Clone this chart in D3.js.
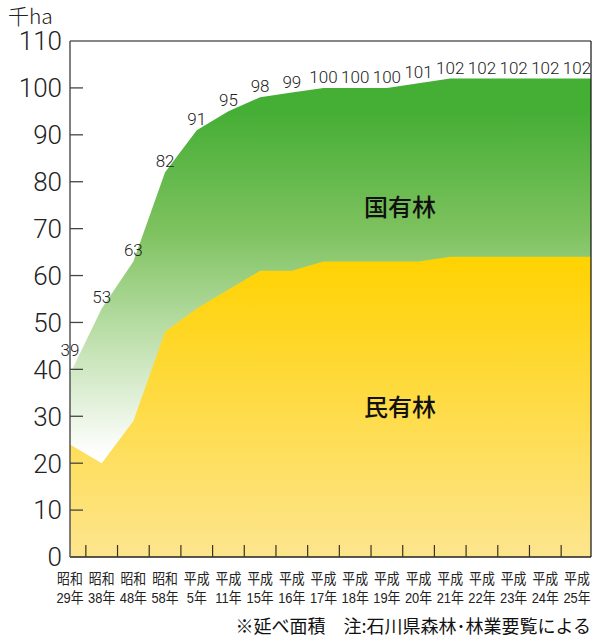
<!DOCTYPE html>
<html><head><meta charset="utf-8">
<script src="https://cdn.jsdelivr.net/npm/d3@7"></script>
<style>
body{margin:0;background:#fff;}
svg{display:block;}
</style></head>
<body>
<svg id="c" width="592" height="637"></svg>
<script>
const eras = ["昭和","昭和","昭和","昭和","平成","平成","平成","平成","平成","平成","平成","平成","平成","平成","平成","平成","平成"];
const years = ["29年","38年","48年","58年","5年","11年","15年","16年","17年","18年","19年","20年","21年","22年","23年","24年","25年"];
const totalValues = [39,53,63,82,91,95,98,99,100,100,100,101,102,102,102,102,102];
const privateValues = [24,20,29,48,53,57,61,61,63,63,63,63,64,64,64,64,64];
const yTicks = [0,10,20,30,40,50,60,70,80,90,100,110];

const svg = d3.select("#c");
const L = 70, R = 591, T = 41, B = 557;
const cats = years.map((y,i)=>eras[i]+y);
const x = d3.scalePoint().domain(cats).range([L, 577]);
const y = d3.scaleLinear().domain([0,110]).range([B, T]);
const step = x.step();

const defs = svg.append("defs");
const gg = defs.append("linearGradient").attr("id","gGreen").attr("gradientUnits","userSpaceOnUse")
  .attr("x1",0).attr("x2",0).attr("y1",y(95)).attr("y2",y(22));
gg.append("stop").attr("offset",0).attr("stop-color","#45ae35");
gg.append("stop").attr("offset",0.35).attr("stop-color","#7ec25f");
gg.append("stop").attr("offset",0.7).attr("stop-color","#c6e3b6");
gg.append("stop").attr("offset",1).attr("stop-color","#ffffff");
const gy = defs.append("linearGradient").attr("id","gYellow").attr("gradientUnits","userSpaceOnUse")
  .attr("x1",0).attr("x2",0).attr("y1",y(64)).attr("y2",y(0));
gy.append("stop").attr("offset",0).attr("stop-color","#ffd200");
gy.append("stop").attr("offset",1).attr("stop-color","#fde58e");

const ptsTotal = cats.map((c,i)=>({x:x(c), v:totalValues[i]}));
ptsTotal.push({x:R, v:totalValues[totalValues.length-1]});
const ptsPriv = cats.map((c,i)=>({x:x(c), v:privateValues[i]}));
ptsPriv.push({x:R, v:privateValues[privateValues.length-1]});

const area = d3.area().x(d=>d.x).y0(y(0)).y1(d=>y(d.v));
svg.append("path").datum(ptsTotal).attr("d",area).attr("fill","url(#gGreen)");
svg.append("path").datum(ptsPriv).attr("d",area).attr("fill","url(#gYellow)");

// frame
svg.append("line").attr("x1",L).attr("x2",R).attr("y1",T).attr("y2",T).attr("stroke","#111").attr("stroke-width",1.2);
svg.append("line").attr("x1",R).attr("x2",R).attr("y1",T).attr("y2",B).attr("stroke","#111").attr("stroke-width",1.2);
svg.append("line").attr("x1",L).attr("x2",R).attr("y1",B).attr("y2",B).attr("stroke","#222").attr("stroke-width",1.5);
svg.append("line").attr("x1",L).attr("x2",L).attr("y1",T).attr("y2",B).attr("stroke","#555").attr("stroke-width",1.5);

// y ticks inward
svg.selectAll(".yt").data(yTicks.filter(t=>t>0&&t<110)).enter().append("line")
  .attr("x1",L).attr("x2",L+13).attr("y1",d=>y(d)).attr("y2",d=>y(d)).attr("stroke","#444").attr("stroke-width",1.3);
// x ticks between points
svg.selectAll(".xt").data(cats.slice(0,-1)).enter().append("line")
  .attr("x1",d=>x(d)+step/2).attr("x2",d=>x(d)+step/2).attr("y1",B).attr("y2",B-12)
  .attr("stroke","#3a3220").attr("stroke-width",1.2);

// y labels
svg.selectAll(".yl").data(yTicks).enter().append("text")
  .attr("x",62).attr("y",d=>y(d)).attr("dy","0.36em").attr("text-anchor","end")
  .attr("font-family","Roboto, 'Liberation Sans', sans-serif").attr("font-weight",300)
  .attr("font-size",26).attr("fill","#222").text(d=>d);

svg.append("text").attr("x",8).attr("y",24).attr("font-family","'Noto Sans CJK JP', Roboto, sans-serif")
  .attr("font-weight",300).attr("font-size",21).attr("fill","#222").text("千ha");

// value labels
svg.selectAll(".vl").data(cats).enter().append("text")
  .attr("x",d=>x(d)).attr("y",(d,i)=>y(totalValues[i])-(i===0?18:5))
  .attr("text-anchor","middle")
  .attr("font-family","Roboto, 'Liberation Sans', sans-serif").attr("font-weight",300)
  .attr("font-size",17).attr("fill","#222").text((d,i)=>totalValues[i]);

// x labels (two lines in one text)
const xl = svg.selectAll(".xl").data(cats).enter().append("text")
  .attr("transform",d=>`translate(${x(d)},0) scale(0.86,1)`)
  .attr("text-anchor","middle")
  .attr("font-family","'Liberation Sans', 'Noto Sans CJK JP', sans-serif").attr("font-size",15).attr("fill","#222");
xl.append("tspan").attr("x",0).attr("y",584).text((d,i)=>eras[i]);
xl.append("tspan").attr("x",0).attr("y",603).text((d,i)=>years[i]);

// series labels
svg.append("text").attr("x",400).attr("y",216).attr("text-anchor","middle")
  .attr("font-family","'Noto Sans CJK JP', sans-serif").attr("font-weight",500).attr("font-size",24).attr("fill","#111").text("国有林");
svg.append("text").attr("x",400).attr("y",416).attr("text-anchor","middle")
  .attr("font-family","'Noto Sans CJK JP', sans-serif").attr("font-weight",500).attr("font-size",24).attr("fill","#111").text("民有林");

// note
svg.append("text").attr("x",591).attr("y",633).attr("text-anchor","end")
  .attr("font-family","'Noto Sans CJK JP', sans-serif").attr("font-size",18).attr("fill","#111")
  .text("※延べ面積　注:石川県森林･林業要覧による");
</script>
</body></html>
